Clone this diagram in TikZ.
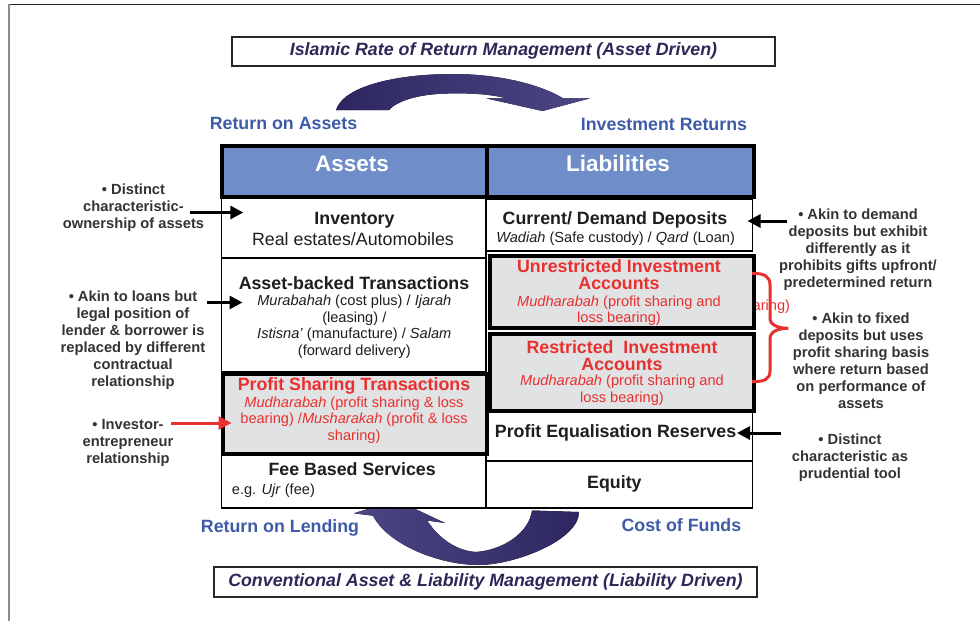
\documentclass[tikz,border=0pt]{standalone}
\usepackage{fontspec}
\setmainfont{Liberation Sans}
\usetikzlibrary{arrows.meta}
\definecolor{hdrblue}{RGB}{110,141,201}
\definecolor{cellgray}{RGB}{225,226,228}
\definecolor{redtxt}{RGB}{232,49,47}
\definecolor{bluetxt}{RGB}{62,91,168}
\definecolor{navy}{RGB}{43,40,88}
\definecolor{arrdark}{RGB}{45,38,96}
\definecolor{arrlight}{RGB}{76,71,133}
\definecolor{anntxt}{RGB}{51,51,51}
\definecolor{bodytxt}{RGB}{30,30,30}
\newcommand{\SzBig}{\fontsize{17.8}{17.3}\selectfont}
\newcommand{\SzSm}{\fontsize{14.6}{16.7}\selectfont}
\newcommand{\SzAnn}{\fontsize{14.7}{17}\selectfont}
\newcommand{\SzHdr}{\fontsize{22.5}{26}\selectfont}
\begin{document}
\begin{tikzpicture}[x=1pt,y=-1pt,
  hdr/.style={draw=black, line width=4pt, fill=hdrblue, inner sep=0pt, anchor=north west},
  cell/.style={draw=black, line width=1.6pt, fill=white, inner sep=0pt, anchor=north west},
  tcell/.style={draw=black, line width=4pt, fill=cellgray, inner sep=0pt, anchor=north west},
  titlebox/.style={draw=black!85, line width=2pt, fill=white, inner sep=0pt, font=\SzBig\bfseries\itshape, text=navy},
  ttl/.style={inner sep=0pt, anchor=base, font=\SzBig\bfseries, text=bodytxt},
  sub/.style={inner sep=0pt, align=center, font=\SzSm, text=bodytxt},
  rttl/.style={inner sep=0pt, align=center, font=\SzBig\bfseries, text=redtxt},
  rsub/.style={inner sep=0pt, align=center, font=\SzSm, text=redtxt},
  lbl/.style={inner sep=0pt, anchor=base, font=\SzBig\bfseries, text=bluetxt},
  hdrtxt/.style={inner sep=0pt, anchor=base, font=\SzHdr\bfseries, text=white},
  ann/.style={inner sep=0pt, align=center, font=\SzAnn\bfseries, text=anntxt},
  pointer/.style={line width=3pt, -{Triangle[length=13pt,width=13pt]}},
]
\useasboundingbox (0,0) rectangle (980,621);
% outer frame
\draw[line width=1.5pt, black!85] (8.5,4.3) -- (980,4.3);
\draw[line width=2pt, black!45] (8.5,4.3) -- (8.5,621);

% titles
\node[titlebox, minimum width=543pt, minimum height=28.7pt] (ttop) at (503.5,51.3) {Islamic Rate of Return Management (Asset Driven)};
\node[titlebox, minimum width=543.3pt, minimum height=29.4pt] (tbot) at (485.4,582) {Conventional Asset \& Liability Management (Liability Driven)};

% curved arrows
\fill[left color=arrdark, right color=arrlight]
  (336,110) .. controls (344,85) and (400,74) .. (452.6,74)
  .. controls (505,74) and (545,87) .. (563,98.3)
  -- (590,98.3) -- (542.5,111) -- (486,98.3) -- (506,98.3)
  .. controls (490,94) and (470,93) .. (448,93.5)
  .. controls (418,94) and (397,101) .. (389,110) -- cycle;
\fill[left color=arrlight, right color=arrdark]
  (579,512) .. controls (579,540) and (515,565) .. (478.5,565)
  .. controls (440,565) and (388,545) .. (373,515.7)
  -- (354,513.3) -- (396.2,500) -- (445,523) -- (427,520.5)
  .. controls (440,540) and (458,551) .. (476,552)
  .. controls (503,550) and (529,533) .. (532,510.5) -- cycle;

% blue labels
\node[lbl] (roa) at (283.5,129.7) {Return on Assets};
\node[lbl] (ir) at (664,130) {Investment Returns};
\node[lbl] (rol) at (280,532.4) {Return on Lending};
\node[lbl] (cof) at (681.4,531.4) {Cost of Funds};

% hidden text behind unrestricted box
\node[inner sep=0pt, anchor=west, font=\SzSm, text=redtxt] (aring) at (752.5,307) {aring)};

% thin cells
\node[cell, minimum width=264.3pt, minimum height=60pt] (inv) at (220.7,197) {};
\node[cell, minimum width=264.3pt, minimum height=114pt] (ab) at (220.7,257) {};
\node[cell, minimum width=264.3pt, minimum height=54.3pt] (fee) at (220.7,453) {};
\node[cell, minimum width=266.7pt, minimum height=52pt] (cur) at (485,198) {};
\node[cell, minimum width=266.7pt, minimum height=50pt] (pe) at (485,410) {};
\node[cell, minimum width=266.7pt, minimum height=47.3pt] (eq) at (485,460) {};
% thick cells
\node[tcell, minimum width=264pt, minimum height=79.5pt] (ps) at (221,372) {};
\node[tcell, minimum width=264pt, minimum height=71.8pt] (ur) at (488,253.7) {};
\node[tcell, minimum width=264pt, minimum height=76.5pt] (rs) at (488,332) {};
% headers
\node[hdr, minimum width=265pt, minimum height=51.3pt] (ha) at (220,143.7) {};
\node[hdr, minimum width=266.5pt, minimum height=51.3pt] (hl) at (485,143.7) {};
\node[hdrtxt] (hat) at (352,171.4) {Assets};
\node[hdrtxt] (hlt) at (618,171.4) {Liabilities};

% cell texts
\node[ttl] (invT) at (354.5,224.7) {Inventory};
\node[ttl, font=\SzBig] (invS) at (353,245.7) {Real estates/Automobiles};
\node[ttl] (curT) at (615,224.7) {Current/ Demand Deposits};
\node[ttl, font=\SzSm] (curS) at (615.6,242) {\textit{Wadiah} (Safe custody) / \textit{Qard} (Loan)};
\node[ttl] (abT) at (354,289.7) {Asset-backed Transactions};
\node[sub] (abS) at (354.3,326.7) {\textit{Murabahah} (cost plus) / \textit{Ijarah}\\(leasing) /\\\textit{Istisna'} (manufacture) / \textit{Salam}\\(forward delivery)};
\node[ttl, text=redtxt] (psT) at (354,390.4) {Profit Sharing Transactions};
\node[rsub] (psS) at (354,420) {\textit{Mudharabah} (profit sharing \& loss\\bearing) /\textit{Musharakah} (profit \& loss\\sharing)};
\node[rttl] (urT) at (619,274.7) {Unrestricted Investment\\Accounts};
\node[rsub] (urS) at (619,310.8) {\textit{Mudharabah} (profit sharing and\\loss bearing)};
\node[rttl] (rsT) at (622,355.8) {Restricted~ Investment\\Accounts};
\node[rsub] (rsS) at (622,390.3) {\textit{Mudharabah} (profit sharing and\\loss bearing)};
\node[ttl] (peT) at (615.6,437.4) {Profit Equalisation Reserves};
\node[ttl] (feeT) at (352.2,475.7) {Fee Based Services};
\node[ttl, anchor=base west, font=\SzSm] (feeS) at (231.7,494.6) {e.g. \textit{Ujr} (fee)};
\node[ttl] (eqT) at (614.4,488.1) {Equity};

% annotations
\node[ann] (a1) at (133.5,208) {• Distinct\\characteristic-\\ownership of assets};
\node[ann] (a2) at (133,340) {• Akin to loans but\\legal position of\\lender \& borrower is\\replaced by different\\contractual\\relationship};
\node[ann] (a3) at (128,443) {• Investor-\\entrepreneur\\relationship};
\node[ann] (b1) at (858,250) {• Akin to demand\\deposits but exhibit\\differently as it\\prohibits gifts upfront/\\predetermined return};
\node[ann] (b2) at (861,361) {• Akin to fixed\\deposits but uses\\profit sharing basis\\where return based\\on performance of\\assets};
\node[ann] (b3) at (850,458) {• Distinct\\characteristic as\\prudential tool};

% annotation arrows
\coordinate (a1s) at (190,212.5); \coordinate (a1e) at (243.3,212.5);
\coordinate (a2s) at (207,302.5); \coordinate (a2e) at (242.5,302.5);
\coordinate (a3s) at (171,423); \coordinate (a3e) at (231.5,423);
\coordinate (b1s) at (787,221); \coordinate (b1e) at (747.5,221);
\coordinate (b3s) at (781,433); \coordinate (b3e) at (737,433);
\draw[pointer] (a1s) -- (a1e);
\draw[pointer] (a2s) -- (a2e);
\draw[pointer, redtxt] (a3s) -- (a3e);
\draw[pointer] (b1s) -- (b1e);
\draw[pointer] (b3s) -- (b3e);

% red brace
\draw[redtxt, line width=3pt]
  (752,273.3) .. controls (764,273.3) and (770,276) .. (770,285)
  -- (770,318) .. controls (770,325) and (778,328.3) .. (788.3,328.3)
  .. controls (778,328.3) and (770,331.6) .. (770,338.6)
  -- (770,371) .. controls (770,379.5) and (764,381.7) .. (752,381.7);
\end{tikzpicture}
\end{document}
